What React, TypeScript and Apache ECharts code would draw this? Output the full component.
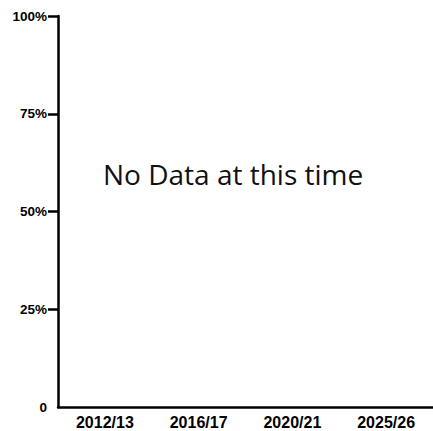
import React, { useEffect, useRef } from "react";
import * as echarts from "echarts";

const categories = ["2012/13", "2016/17", "2020/21", "2025/26"];
const values: (number | null)[] = [null, null, null, null];
const yTicks = [0, 25, 50, 75, 100];
const noDataText = "No Data at this time";

export default function App() {
  const ref = useRef<HTMLDivElement>(null);
  useEffect(() => {
    if (!ref.current) return;
    const chart = echarts.init(ref.current, undefined, { renderer: "svg" });
    const labelFont = {
      fontFamily: "'Liberation Sans Narrow', 'Arial Narrow', 'Liberation Sans', sans-serif",
      fontWeight: "bold" as const,
      color: "#000",
    };
    chart.setOption({
      animation: false,
      grid: { left: 58, right: 0, top: 16, bottom: 24, containLabel: false },
      xAxis: {
        type: "category",
        data: categories,
        axisLine: { lineStyle: { color: "#000", width: 2.5 } },
        axisTick: { show: false },
        axisLabel: { ...labelFont, fontSize: 16, margin: 7 },
      },
      yAxis: {
        type: "value",
        min: yTicks[0],
        max: yTicks[yTicks.length - 1],
        interval: 25,
        splitLine: { show: false },
        axisLine: { show: true, lineStyle: { color: "#000", width: 2.5 } },
        axisTick: {
          show: true,
          length: 10,
          customValues: yTicks.filter((t) => t !== 0),
          lineStyle: { color: "#000", width: 2.5 },
        },
        axisLabel: {
          ...labelFont,
          fontSize: 13.5,
          margin: 11,
          formatter: (v: number) => (v === 0 ? "0" : v + "%"),
        },
      },
      series: [{ type: "line", data: values }],
      graphic: [
        {
          type: "text",
          left: 103,
          top: 160,
          style: {
            text: noDataText,
            fontFamily: "'Open Sans', sans-serif",
            fontSize: 28,
            fill: "#111",
          },
        },
      ],
    });
    return () => chart.dispose();
  }, []);
  return <div ref={ref} style={{ width: 433, height: 431, position: "absolute", left: 0, top: 0 }} />;
}
